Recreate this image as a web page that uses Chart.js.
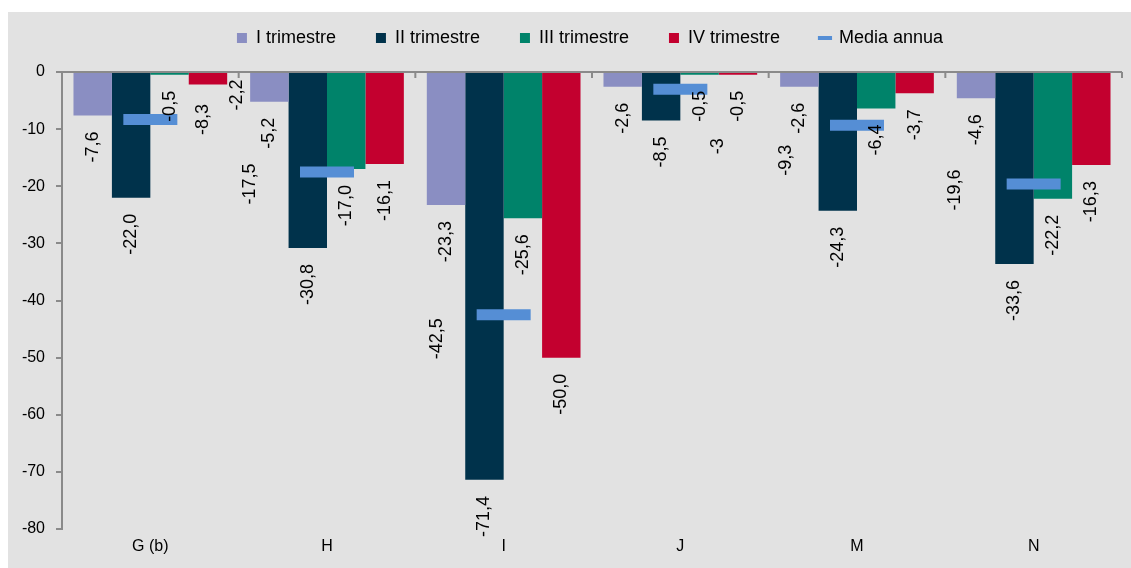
<!DOCTYPE html>
<html>
<head>
<meta charset="utf-8">
<script src="https://cdn.jsdelivr.net/npm/chart.js@4.4.1/dist/chart.umd.min.js"></script>
<style>
  html, body { margin: 0; padding: 0; background: #fff; overflow: hidden; }
  #wrap { position: absolute; left: 8px; top: 12px; width: 1123px; height: 556px; background: #e2e2e2; }
</style>
</head>
<body>
<div id="wrap"><canvas id="chart"></canvas></div>
<script>
// data (variazioni % per trimestre)
const categories = ['G (b)', 'H', 'I', 'J', 'M', 'N'];
const trim1 = [-7.6, -5.2, -23.3, -2.6, -2.6, -4.6];
const trim2 = [-22.0, -30.8, -71.4, -8.5, -24.3, -33.6];
const trim3 = [-0.5, -17.0, -25.6, -0.5, -6.4, -22.2];
const trim4 = [-2.2, -16.1, -50.0, -0.5, -3.7, -16.3];
const mediaAnnua = [-8.3, -17.5, -42.5, -3, -9.3, -19.6];

// where the media labels sit relative to their dash (px), like the original
const mediaLabelDx = [53, -77, -67, 38, -71, -79];
const mediaLabelDy = [0, 12, 24, 57, 35, 6];

const FONT = '"Liberation Sans", Arial, sans-serif';
const AXIS_GREY = '#8a8a8a';

function fmt(v, keepInt) {
    if (keepInt && Number.isInteger(v)) return String(v);
    return v.toFixed(1).replace('.', ',');
}

// one bar label was pushed aside in the original to avoid the media label
function nudge(datasetIndex, index) {
    if (datasetIndex === 3 && index === 0) return { dx: 29, dy: -21 };
    return { dx: 0, dy: 0 };
}

// legend: items spread out, sitting near the top, centred a bit right
const legendFit = {
    id: 'legendFit',
    beforeInit(chart) {
        const fit = chart.legend.fit;
        chart.legend.fit = function () {
            fit.call(this);
            this.height = 83;
        };
    },
    afterLayout(chart) {
        chart.legend.left += 25;
        chart.legend.right += 25;
    }
};

// zero line with small downward ticks between categories
const zeroAxis = {
    id: 'zeroAxis',
    afterDatasetsDraw(chart) {
        const { ctx, scales: { x, y }, chartArea } = chart;
        const y0 = y.getPixelForValue(0);
        const half = (x.getPixelForValue(1) - x.getPixelForValue(0)) / 2;
        ctx.save();
        ctx.strokeStyle = AXIS_GREY;
        ctx.lineWidth = 2;
        ctx.beginPath();
        ctx.moveTo(chartArea.left, y0);
        ctx.lineTo(chartArea.right, y0);
        for (let i = 0; i <= categories.length; i++) {
            const px = x.getPixelForValue(i) - half;
            ctx.moveTo(px, y0);
            ctx.lineTo(px, y0 + 6);
        }
        ctx.stroke();
        ctx.restore();
    }
};

// rotated value labels
const valueLabels = {
    id: 'valueLabels',
    afterDatasetsDraw(chart) {
        const ctx = chart.ctx;
        ctx.save();
        ctx.font = '18px ' + FONT;
        ctx.fillStyle = '#000';
        ctx.textBaseline = 'middle';
        chart.data.datasets.forEach((ds, i) => {
            const meta = chart.getDatasetMeta(i);
            const isMedia = ds.type === 'line';
            meta.data.forEach((el, j) => {
                ctx.save();
                if (isMedia) {
                    ctx.translate(el.x + mediaLabelDx[j], el.y + mediaLabelDy[j]);
                    ctx.textAlign = 'center';
                } else {
                    const n = nudge(i, j);
                    ctx.translate(el.x + n.dx, el.y + 16 + n.dy);
                    ctx.textAlign = 'right';
                }
                ctx.rotate(-Math.PI / 2);
                ctx.fillText(fmt(ds.data[j], isMedia), 0, 0);
                ctx.restore();
            });
        });
        ctx.restore();
    }
};

const barCommon = {
    type: 'bar',
    borderWidth: 0,
    categoryPercentage: 0.87,
    barPercentage: 1.0,
    order: 1
};

new Chart(document.getElementById('chart'), {
    data: {
        labels: categories,
        datasets: [
            { ...barCommon, label: 'I trimestre', data: trim1, backgroundColor: '#8a8ec2' },
            { ...barCommon, label: 'II trimestre', data: trim2, backgroundColor: '#00324b' },
            { ...barCommon, label: 'III trimestre', data: trim3, backgroundColor: '#00836a' },
            { ...barCommon, label: 'IV trimestre', data: trim4, backgroundColor: '#c3002f' },
            {
                type: 'line',
                label: 'Media annua',
                data: mediaAnnua,
                showLine: false,
                pointStyle: 'line',
                pointRadius: 27,
                pointHoverRadius: 27,
                pointBorderWidth: 11,
                pointHoverBorderWidth: 11,
                borderColor: '#558ed5',
                backgroundColor: '#558ed5',
                order: 0
            }
        ]
    },
    options: {
        responsive: true,
        maintainAspectRatio: false,
        animation: false,
        events: [],
        layout: { autoPadding: false, padding: { top: -23, right: 9, bottom: 0, left: 0 } },
        plugins: {
            tooltip: { enabled: false },
            legend: {
                position: 'top',
                labels: {
                    usePointStyle: true,
                    boxWidth: 10,
                    boxHeight: 10,
                    padding: 40,
                    color: '#000',
                    font: { family: FONT, size: 18 },
                    generateLabels(chart) {
                        return chart.data.datasets.map((ds, i) => {
                            const isMedia = ds.type === 'line';
                            return {
                                text: ds.label,
                                datasetIndex: i,
                                fillStyle: ds.backgroundColor,
                                strokeStyle: isMedia ? ds.borderColor : ds.backgroundColor,
                                lineWidth: isMedia ? 4 : 0,
                                pointStyle: isMedia ? 'line' : 'rect',
                                fontColor: '#000',
                                hidden: false
                            };
                        });
                    }
                }
            }
        },
        scales: {
            x: {
                grid: { display: false },
                border: { display: false },
                ticks: { color: '#000', padding: 0, font: { family: FONT, size: 16 } },
                afterFit(scale) { scale.height = 39; }
            },
            y: {
                min: -80,
                max: 0,
                ticks: { stepSize: 10, color: '#000', padding: 11, font: { family: FONT, size: 16 } },
                grid: { drawOnChartArea: false, drawTicks: true, tickLength: 6, color: AXIS_GREY, lineWidth: 2 },
                border: { display: true, color: AXIS_GREY, width: 2 },
                afterFit(scale) { scale.width = 54; }
            }
        }
    },
    plugins: [legendFit, zeroAxis, valueLabels]
});
</script>
</body>
</html>
